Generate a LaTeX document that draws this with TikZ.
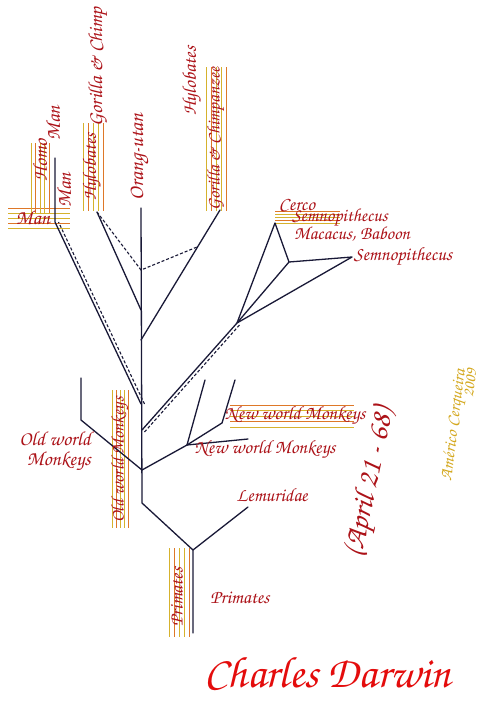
\documentclass[tikz,border=0pt]{standalone}
\usepackage[T1]{fontenc}
\usepackage{xcolor}
\usepackage{tikz}
\usetikzlibrary{calc}
\definecolor{inkred}{RGB}{172,18,24}
\definecolor{sigred}{RGB}{228,12,12}
\definecolor{stemblue}{RGB}{25,25,55}
\definecolor{staffgold}{RGB}{214,178,45}
\definecolor{staffamber}{RGB}{222,120,40}
\definecolor{signgold}{RGB}{212,168,30}
\newcommand{\hand}{\fontfamily{pzc}\fontseries{m}\fontshape{it}\selectfont}
\newcommand{\vstaff}[4]{%
  \foreach \k/\c in {0/staffgold,1/staffamber,2/staffgold,3/staffgold,4/staffamber}
    \draw[staff, \c] ({#1+\k*#4},#2) -- ({#1+\k*#4},#3);
}
\newcommand{\hstaff}[4]{%
  \foreach \k/\c in {0/staffamber,1/staffgold,2/staffgold,3/staffamber,4/staffgold}
    \draw[staff, \c] (#2,{#1+\k*#4}) -- (#3,{#1+\k*#4});
}
\tikzset{
  stem/.style={draw=stemblue, line width=1.3pt, line cap=round, line join=round},
  stemdashed/.style={draw=stemblue, line width=1.1pt, dash pattern=on 3pt off 2pt},
  staff/.style={line width=0.9pt},
  taxon/.style={text=inkred, inner sep=0pt, font=\fontsize{#1}{#1}\hand},
  taxon/.default=18,
}

\begin{document}
\begin{tikzpicture}[x=1pt, y=-1pt]
  \useasboundingbox[fill=white] (0,0) rectangle (482,705);
  \hstaff{208}{8}{70}{5}
  \vstaff{31}{143}{213}{4.5}
  \vstaff{83}{123}{211}{5}
  \vstaff{206}{67}{211}{5}
  \hstaff{211}{275}{340}{3}
  \vstaff{112}{390}{528}{4}
  \hstaff{405}{230}{354}{5.5}
  \vstaff{169}{548}{637}{5}
  \coordinate (orangTip) at (141,208);
  \coordinate (linkFork) at (141,270);
  \coordinate (hyloFork) at (141,310);
  \coordinate (gorFork) at (141,340);
  \coordinate (manFork) at (141,404);
  \coordinate (cercoFork) at (142,430);
  \coordinate (worldFork) at (142,470);
  \coordinate (trunkBase) at (142,503);
  \coordinate (primFork) at (193,550);
  \coordinate (primRoot) at (193,633);
  \coordinate (lemurTip) at (248,507);
  \coordinate (owBend) at (81,420);
  \coordinate (owTip) at (81,378);
  \coordinate (nwFork) at (187,445);
  \coordinate (nwTipA) at (205,380);
  \coordinate (nwBend) at (222,423);
  \coordinate (nwTipB) at (235,380);
  \coordinate (nwTipC) at (248,439);
  \coordinate (cercoKnot) at (237,323);
  \coordinate (cercoApex) at (275,223);
  \coordinate (cercoInner) at (289,262);
  \coordinate (cercoRight) at (352,257);
  \coordinate (manBend) at (55,222);
  \coordinate (manTip) at (55,158);
  \coordinate (hyloTip) at (97,212);
  \coordinate (gorTip) at (220,210);
  \coordinate (gorLink) at (197,247);
  \draw[stem] (orangTip) -- (trunkBase) -- (primFork) -- (primRoot);
  \draw[stem] (primFork) -- (lemurTip);
  \draw[stem] (worldFork) -- (owBend) -- (owTip);
  \draw[stem] (worldFork) -- (nwFork) -- (nwTipA);
  \draw[stem] (nwFork) -- (nwBend) -- (nwTipB);
  \draw[stem] (nwFork) -- (nwTipC);
  \draw[stem] (cercoFork) -- (cercoKnot) -- (cercoApex) -- (cercoInner) -- (cercoRight) -- (cercoKnot);
  \draw[stem] (cercoKnot) -- (cercoInner);
  \draw[stemdashed] ([shift={(2.5,2)}]cercoFork) -- ([shift={(2.5,2)}]cercoKnot);
  \draw[stem] (manFork) -- (manBend) -- (manTip);
  \draw[stemdashed] ([xshift=3.5pt]manFork) -- ([xshift=3.5pt]manBend);
  \draw[stem] (hyloFork) -- (hyloTip);
  \draw[stemdashed] (hyloTip) -- (linkFork) -- (gorLink);
  \draw[stem] (gorFork) -- (gorTip);
  \node[taxon=20] (manFlat) at (33,218) {Man};
  \node[taxon=20, rotate=90] (homo) at (40,160) {Homo};
  \node[taxon=20, rotate=90] (manHigh) at (53,123) {Man};
  \node[taxon=20, rotate=90] (manLow) at (64,190) {Man};
  \node[taxon=19, rotate=90] (hyloLeft) at (92,167) {Hylobates};
  \node[taxon=20, rotate=90] (gorChimp) at (98,67) {Gorilla \& Chimp};
  \node[taxon=21, rotate=90] (orang) at (140,157) {Orang-utan};
  \node[taxon=19.5, rotate=90] (hyloRight) at (192,81) {Hylobates};
  \node[taxon=18, rotate=90] (gorChimpz) at (216,139) {Gorilla \& Chimpanzee};
  \node[taxon=19] (cerco) at (297,205) {Cerco};
  \node[taxon=18.5] (semnoHigh) at (340,218) {Semnopithecus};
  \node[taxon=18.5] (macacus) at (352,234) {Macacus, Baboon};
  \node[taxon=19] (semnoLow) at (403,257) {Semnopithecus};
  \node[taxon=20, align=right] (oldLeft) at (55,451) {Old world\\Monkeys};
  \node[taxon=18, rotate=90] (oldUp) at (120,460) {Old world Monkeys};
  \node[taxon=19] (newHigh) at (295,416) {New world Monkeys};
  \node[taxon=19] (newLow) at (265,450) {New world Monkeys};
  \node[taxon=19] (lemur) at (272,495) {Lemuridae};
  \node[taxon=30, rotate=78] (april) at (371,483) {(April 21 - 68)};
  \node[taxon=17.5, rotate=83, text=signgold] (cerq) at (455,425) {Am\'erico Cerqueira};
  \node[taxon=16, rotate=83, text=signgold] (year) at (470,383) {2009};
  \node[taxon=19, rotate=90] (primUp) at (177,597) {Primates};
  \node[taxon=19] (primFlat) at (240,598) {Primates};
  \node[taxon=44, text=sigred] (darwin) at (328,672) {Charles Darwin};
\end{tikzpicture}
\end{document}
